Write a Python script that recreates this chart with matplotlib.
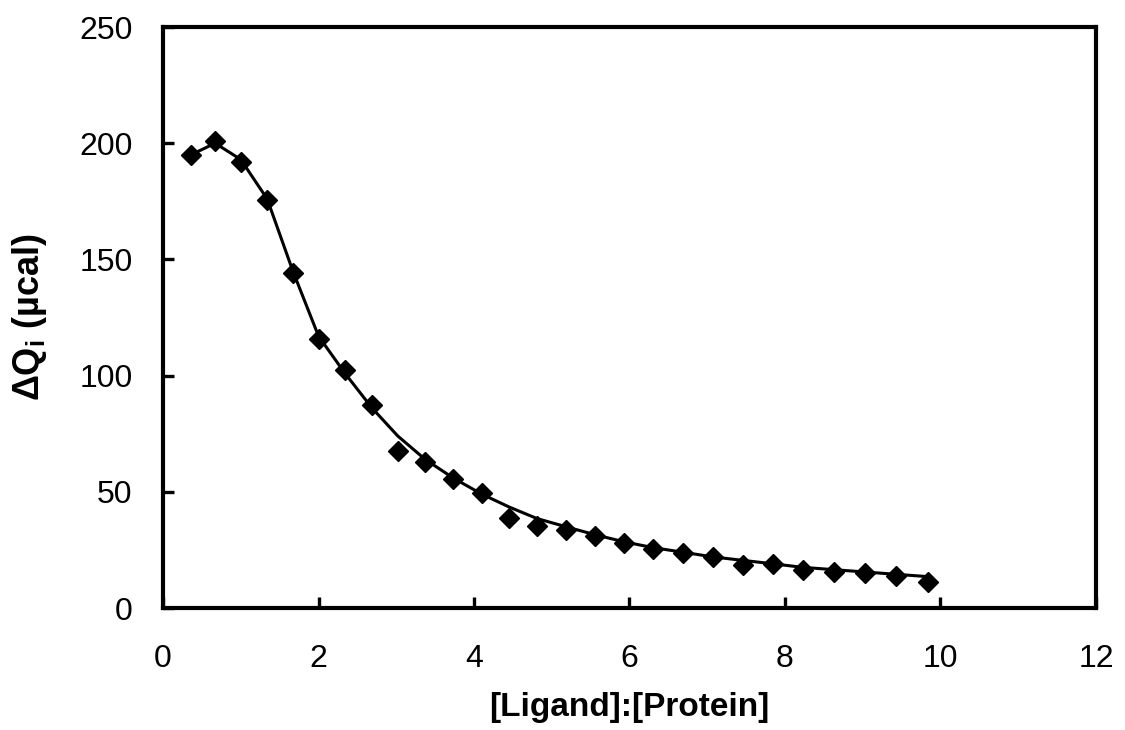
import numpy as np
import matplotlib.pyplot as plt

plt.rcParams['font.family'] = ['Liberation Sans', 'DejaVu Sans']
plt.rcParams['mathtext.fontset'] = 'custom'
plt.rcParams['mathtext.rm'] = 'Liberation Sans'
plt.rcParams['mathtext.bf'] = 'Liberation Sans:bold'

# measured injections
ratio = [0.36, 0.67, 1.00, 1.34, 1.67, 2.00, 2.34, 2.69, 3.02, 3.37, 3.73, 4.10, 4.45, 4.81,
         5.18, 5.56, 5.93, 6.30, 6.69, 7.07, 7.46, 7.85, 8.23, 8.63, 9.03, 9.43, 9.84]
heat = [195, 201, 192, 175.6, 144, 115.7, 102.4, 87.3, 67.6, 62.8, 55.5, 49.5, 38.7, 35.3,
        33.6, 31, 28, 25.4, 23.7, 21.9, 18.5, 18.9, 16.4, 15.5, 15, 13.8, 11.2]

# fitted curve
fit = [195, 200, 193, 176, 145, 117, 101, 86, 74, 64, 56, 49, 43.5, 38.5,
       35, 31.5, 28.5, 26, 24, 22, 20.5, 19, 17.5, 16.5, 15.5, 14.5, 13.5]

fig = plt.figure(figsize=(11.25, 7.3), dpi=100)
ax = fig.add_axes([0.1449, 0.1671, 0.8293, 0.7959])

ax.plot(ratio, fit, color='black', lw=2.2, zorder=2)
ax.plot(ratio, heat, ls='none', marker='D', ms=10, color='black', zorder=3)

ax.set_xlim(0, 12)
ax.set_ylim(0, 250)
ax.set_xticks(np.arange(0, 13, 2))
ax.set_yticks(np.arange(0, 251, 50))

for s in ax.spines.values():
    s.set_linewidth(3.0)
ax.tick_params(direction='in', length=8, width=2.4, labelsize=23)
ax.tick_params(axis='x', pad=26)
ax.tick_params(axis='y', pad=22)

ax.set_xlabel('[Ligand]:[Protein]', fontsize=24, fontweight='bold', labelpad=13)
ax.set_ylabel(r'$\mathbf{\Delta Q_i}$ (µcal)', fontsize=26, fontweight='bold', labelpad=22)

fig.savefig('out.png', dpi=100)
